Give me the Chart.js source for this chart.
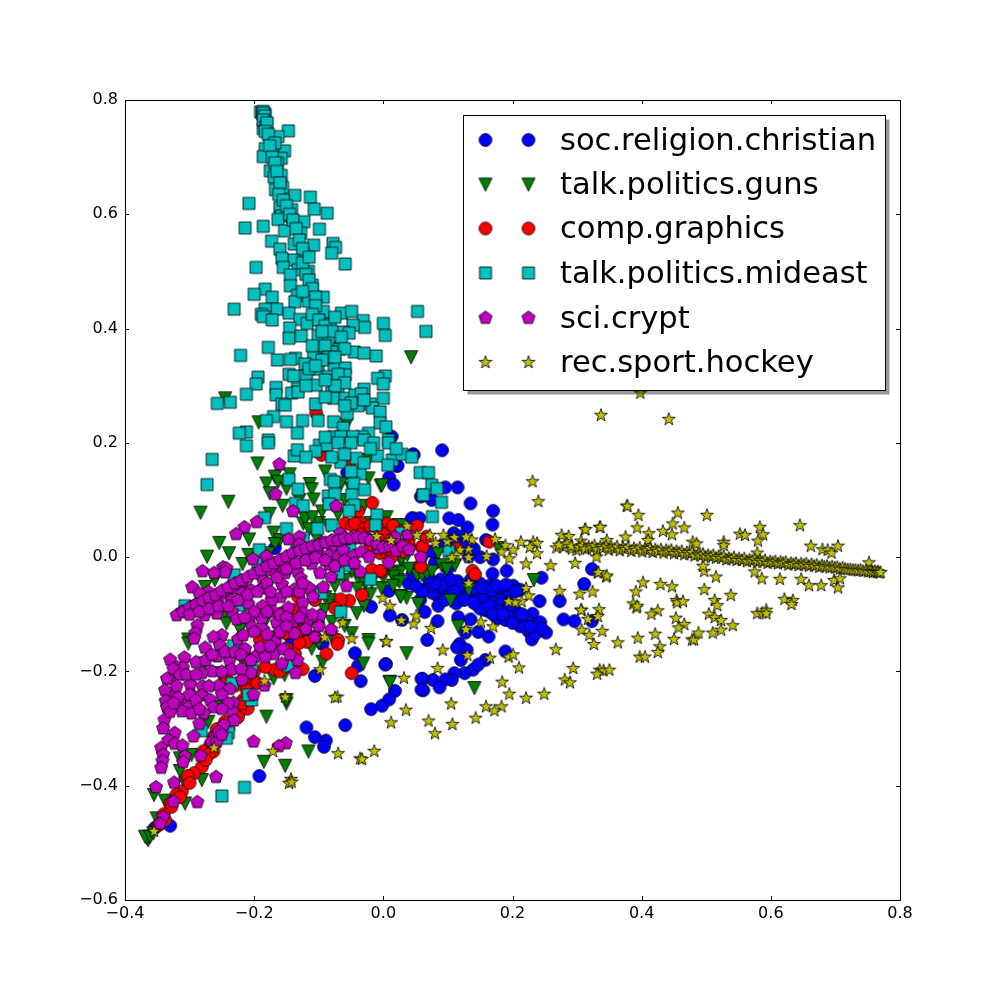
<!DOCTYPE html>
<html>
<head>
<meta charset="utf-8">
<style>html,body{margin:0;padding:0;background:#fff}canvas{display:block}</style>
<script src="https://cdn.jsdelivr.net/npm/chart.js@4/dist/chart.umd.min.js"></script>
</head>
<body>
<canvas id="c" width="1000" height="1000"></canvas>
<script>
const seriesNames = ['soc.religion.christian','talk.politics.guns','comp.graphics','talk.politics.mideast','sci.crypt','rec.sport.hockey'];
const seriesColors = ['#0000ff','#007f00','#ff0000','#00bfbf','#bf00bf','#bfbf00'];
const xTicks = [-0.4,-0.2,0,0.2,0.4,0.6,0.8];
const yTicks = [-0.6,-0.4,-0.2,0,0.2,0.4,0.6,0.8];

const christian = [[.091,.187],[.047,.179],[.021,.160],[.009,.140],[.016,.127],[.115,.122],[.096,.122],[.058,.106],[.075,.100],[.135,.094],[.170,.081],[.169,.057],[.102,.068],[.116,.065],[.130,.052],[.046,.068],[.056,.068],[.109,.042],[.119,.036],[.159,.030],[.150,.000],[.170,-.004],[.132,.001],[.191,-.024],[.169,-.029],[.245,-.036],[.323,-.021],[.311,-.047],[.242,-.077],[.273,-.077],[.279,-.109],[.296,-.112],[.323,-.112],
[.065,-.056],[.089,-.039],[.102,-.053],[.115,-.042],[.084,-.068],[.085,-.085],[.113,-.081],[.057,-.075],[.064,-.096],[.084,-.112],[.129,-.052],[.150,-.046],[.164,-.050],[.183,-.057],[.201,-.050],[.212,-.057],[.151,-.064],[.170,-.068],[.191,-.072],[.162,-.076],[.146,-.084],[.178,-.087],[.189,-.084],[.206,-.095],[.163,-.095],[.176,-.107],[.189,-.110],[.217,-.113],[.231,-.099],[.212,-.121],[.230,-.117],[.243,-.114],[.225,-.130],[.240,-.127],[.252,-.132],[.230,-.144],[.116,-.105],[.135,-.109],[.127,-.132],[.147,-.131],[.163,-.139],[.068,-.145],[.118,-.152],[.129,-.162],[.114,-.158],[.120,-.180],[.189,-.165],[.004,-.187],[.010,-.102],[.029,-.110],[.009,-.059],[.039,-.046],[.158,-.180],[.139,-.197],[.147,-.188],[.126,-.203],[.110,-.203],[.106,-.215],[.096,-.214],[.077,-.215],[.061,-.213],[.062,-.233],[.087,-.228],[.018,-.234],[.009,-.249],[-.002,-.260],[-.019,-.266],
[.072,-.044],[.097,-.060],[.125,-.065],[.140,-.070],[.156,-.092],[.170,-.092],[.196,-.097],[.222,-.110],[.205,-.108],[.100,-.070],[.075,-.062],[.138,-.055],[.195,-.060],[.180,-.075],
[.105,-.040],[.120,-.050],[.135,-.040],[.140,-.055],[.155,-.055],[.168,-.058],[.175,-.050],[.190,-.048],[.205,-.060],[.155,-.075],[.170,-.080],[.183,-.082],[.195,-.085],[.150,-.090],[.165,-.085],[.180,-.095],[.195,-.105],[.215,-.100],[.170,-.100],[.185,-.100],[.200,-.115],[.220,-.122],[.235,-.135],[.245,-.125],[.228,-.122],[.090,-.050],[.110,-.060],[.125,-.075],[.140,-.080],[.075,-.050],[.095,-.075],[.060,-.060],[.050,-.050],[.080,-.045],[.060,-.020],[.080,-.010],[.100,-.020],[.070,-.035],[.045,-.030],[.125,.020],[.110,.030],[.140,.015],[.090,.020],[.075,.010],
[-.056,.148],[.022,.160],[.044,.068],[-.019,-.087],[-.168,.016],[-.067,.371],[.013,.211],[-.044,-.168],[.003,-.188],[-.039,-.190],[-.035,-.217],[-.106,-.208],[.059,-.213],[.059,-.232],[-.119,-.298],[-.059,-.294],[-.106,-.315],[-.089,-.321],[-.092,-.332],[-.192,-.383],[-.330,-.470],[-.354,-.474],[-.142,-.145],[-.094,-.152],[.046,.180]];

const guns = [[-.195,.164],[-.168,.141],[-.145,.145],[-.181,.129],[-.163,.132],[-.114,.128],[-.111,.119],[-.176,.112],[-.108,.101],[-.240,.097],[-.156,.090],[-.283,.078],[-.176,.076],[-.124,.059],[-.121,.068],[-.170,.043],[-.115,.049],[-.254,.025],[-.208,.031],[-.160,.030],[-.168,.023],[-.103,.033],[-.239,.007],[-.273,.001],[-.218,-.012],[-.023,.170],[-.004,.125],[-.065,.129],[-.049,.147],[-.023,.138],[.023,.056],[.005,.070],[.038,.007],[.027,-.005],[.026,-.025],[.013,-.028],[.023,-.040],[.054,-.031],[-.039,-.037],[-.028,-.046],[-.018,-.043],[-.049,-.025],[-.083,-.075],[-.030,-.085],[.026,-.068],[.036,-.071],[.054,-.082],[-.003,-.054],[-.041,-.098],[-.091,-.092],[-.245,-.098],[-.243,-.116],[-.222,-.127],[-.183,-.113],[-.101,-.124],[-.080,-.113],[-.049,-.133],[-.023,-.145],[-.302,-.144],[-.261,-.040],[-.276,-.052],[-.178,.007],[-.209,.004],
[-.023,-.151],[.036,-.168],[-.111,-.160],[-.031,-.186],[.010,-.218],[-.094,-.183],[-.153,-.206],[-.170,-.212],[-.150,-.256],[-.150,-.250],[-.181,-.279],[-.116,-.340],[-.185,-.358],[-.152,-.365],[-.271,-.288],[-.253,-.262],[-.281,-.390],[-.315,-.374],[-.307,-.396],[-.307,-.431],[-.355,-.416],[-.338,-.426],[-.297,-.346],[-.315,-.352],[-.351,-.457],[-.364,-.495],[-.366,-.492],[-.369,-.489],[-.361,-.489],[-.356,-.483],[-.253,-.203],[-.219,-.180],[-.276,-.186],[-.302,-.151],[-.222,-.279],
[.043,.350],[-.245,.278],[-.193,.236],[-.057,.232],[-.002,.126],[.025,.056],[.028,-.004],[.037,.004],[.085,.007],[.111,-.014],[.090,-.014],[.098,-.021],[.016,-.034],[.025,-.043],[.052,-.031],[.060,-.031],[.067,-.028],[.132,-.057],[.027,-.069],[.104,-.076],[.116,-.121],[.233,-.040],[.178,.016],[.010,-.219],[.141,-.229],
[-.100,.060],[-.085,.055],[-.095,.080],[-.070,.075],[-.060,.100],[-.040,.070],[-.030,.090],[-.020,.060],[-.090,.150],[-.050,.120],[-.110,.070],[-.130,.100],[-.150,.120],[-.060,-.040],[-.040,-.055],[-.020,-.065],[-.075,-.050],[-.090,-.070],[-.070,-.085],[.000,-.035],[.015,-.050],[.040,-.020],[.060,-.010],[.075,-.025],[-.130,-.120],[-.120,-.140],[-.150,-.130],[-.080,-.140],[-.100,-.150],[-.060,-.120]];

const graphics = [[-.096,.179],[-.052,.167],[-.017,.095],[-.039,.080],[-.059,.059],[-.049,.056],[-.034,.059],[-.044,.059],[.005,.059],[.052,.055],[-.010,.053],[.013,.036],[.023,.018],[.039,.021],[.059,.018],[.002,.010],[.013,.004],[-.018,-.022],[-.003,-.025],[.057,-.015],[-.033,-.066],[-.053,-.076],[-.066,-.074],[-.075,-.089],[-.132,-.069],[-.106,-.075],[-.157,-.098],[-.137,-.092],[-.132,-.130],[-.152,-.133],[-.191,-.145],[-.106,-.139],[-.070,-.145],
[-.071,-.152],[-.088,-.169],[-.049,-.203],[-.119,-.148],[-.137,-.169],[-.125,-.196],[-.209,-.177],[-.168,-.197],[-.183,-.192],[-.206,-.218],[-.243,-.212],[-.212,-.232],[-.217,-.250],[-.210,-.265],[-.222,-.270],[-.219,-.256],[-.245,-.288],[-.258,-.301],[-.263,-.314],[-.268,-.329],[-.263,-.340],[-.279,-.340],[-.281,-.367],[-.293,-.378],[-.303,-.383],[-.312,-.410],[-.320,-.415],[-.330,-.431],[-.328,-.437],[-.338,-.460],[-.348,-.469],
[.016,.048],[-.002,.042],[.005,.024],[.021,.018],[.039,.018],[.061,.018],[.067,.036],[-.005,.007],[.005,.007],[.013,.001],[.039,.030],[.138,-.024],[.142,-.030],[.058,-.017],[-.005,-.024],[.164,.027],[.114,.015],[-.104,.252],
[-.030,.050],[-.020,.055],[-.008,.050],[.000,.040],[.010,.030],[.030,.030],[.015,.055],[.030,.045],[-.020,.020],[.005,.015],[.030,.010],[-.035,.040],[-.170,-.140],[-.150,-.160],[-.130,-.150],[-.185,-.165],[-.200,-.200],[-.160,-.200],[-.195,-.220],[-.215,-.210],[-.230,-.225],[-.225,-.280],[-.240,-.300],[-.250,-.305],[-.270,-.345],[-.300,-.395],[-.275,-.355],[-.315,-.420],[-.340,-.450]];

const mideast = [[-.19,.779],[-.187,.776],[-.183,.775],[-.185,.76],[-.181,.758],[-.186,.75],[-.186,.78],[-.186,.777],[-.184,.772],[-.186,.765],[-.182,.753],[-.147,.746],[-.173,.733],[-.163,.736],[-.170,.714],[-.183,.715],[-.186,.701],[-.153,.711],[-.158,.698],[-.164,.689],[-.175,.676],[-.169,.665],[-.158,.668],[-.156,.647],[-.167,.643],[-.137,.633],[-.113,.630],[-.208,.619],[-.107,.609],[-.087,.602],[-.160,.612],[-.142,.608],[-.158,.597],[-.163,.591],[-.123,.587],[-.186,.579],[-.214,.576],[-.099,.574],[-.140,.579],[-.153,.571],[-.128,.567],[-.173,.553],[-.138,.548],[-.108,.546],[-.078,.549],[-.074,.542],[-.080,.532],[-.160,.539],[-.124,.531],[-.139,.520],[-.157,.523],[-.059,.513],[-.197,.507],[-.155,.507],[-.116,.500],[-.132,.503],[-.144,.494],[-.110,.476],[-.144,.475],[-.183,.469],[-.200,.460],[-.172,.455],[-.133,.458],[-.093,.455],[-.137,.447],[-.116,.448],[-.231,.434],[.053,.430],[-.165,.434],[-.183,.434],[-.189,.425],[-.186,.421],[-.146,.427],[-.093,.430],[-.065,.427],[-.049,.430],[-.031,.414],[.000,.409],[.066,.395],[-.029,.402],[-.047,.406],[-.172,.415],[-.129,.416],[-.118,.409],[-.082,.408],[-.062,.394],[-.053,.392],[.003,.388],[-.145,.401],[-.146,.383],[-.127,.387],[-.101,.388],[-.085,.379],[-.178,.367],[-.221,.353],[-.104,.366],[-.068,.364],[-.080,.359],[-.045,.359],[-.030,.357],[-.011,.352],[-.164,.345],[-.136,.348],[-.144,.346],[-.108,.350],[-.121,.338],[-.075,.339],[-.101,.329],[-.076,.334],[-.059,.331],[-.146,.320],[-.139,.317],[-.194,.315],[-.197,.303],[-.119,.317],[-.085,.316],[-.059,.319],[.003,.317],[-.009,.313],[-.104,.301],[-.133,.295],[.000,.303],[-.166,.297],[-.030,.294],[-.212,.285],[-.166,.284],[-.142,.287],[-.132,.289],[-.080,.288],[-.070,.289],[-.077,.278],[-.059,.278],[-.044,.284],[-.034,.286],[.000,.278],[-.257,.269],[-.237,.271],[-.157,.268],[-.152,.266],[-.105,.268],[-.039,.265],[-.020,.268],[-.017,.261],[-.056,.251],[-.005,.254],[-.170,.246],[-.181,.239],[-.150,.237],[-.125,.239],[-.101,.239],[-.077,.237],[-.005,.235],[.004,.228],[-.062,.226],[-.212,.219],[-.223,.217],[-.133,.217],[-.023,.217],[-.178,.205],[-.077,.211],[-.066,.211],[-.033,.211],[-.047,.211],[.008,.205],
[-.212,.195],[-.178,.200],[-.265,.171],[-.273,.127],[-.138,.177],[-.133,.188],[-.099,.196],[-.088,.196],[.008,.200],[-.066,.166],[-.042,.173],[-.009,.177],[.014,.170],[.029,.180],[.044,.175],[.007,.161],[.057,.148],[-.036,.146],[-.082,.136],[-.076,.132],[-.146,.136],[-.046,.129],[-.132,.119],[-.029,.118],[-.085,.107],[-.075,.110],[-.049,.109],[.061,.109],[-.136,.094],[-.124,.090],[-.084,.093],[-.045,.091],[-.053,.081],[-.184,.069],[-.010,.074],[-.012,.056],[-.150,.050],[-.102,.050],[-.080,.056],[.028,.042],[-.124,.033],[-.192,.013],[-.134,.018],[-.052,.018],[-.194,-.010],[-.178,-.011],[-.059,-.015],[-.231,-.031],[-.070,-.028],[-.020,-.039],[-.096,-.063],[-.221,-.084],[-.307,-.085],[-.066,-.096],
[-.232,-.155],[-.147,-.190],[-.204,-.197],[-.234,-.221],[-.204,-.250],[-.209,-.241],[-.282,-.304],[-.240,-.307],[-.243,-.317],[-.215,-.403],[-.250,-.418],
[.070,.148],[.075,.126],[.083,.120],[.062,.109],[.090,.096],[.076,.071],[.102,.010],
[-.18,.76],[-.183,.745],[-.178,.74],[-.168,.725],[-.176,.72],[-.172,.70],[-.168,.69],[-.165,.675],[-.160,.655],[-.162,.635],[-.155,.625],[-.15,.615],[-.145,.60],[-.140,.59],[-.135,.575],[-.13,.555],[-.125,.54],[-.125,.515],[-.115,.525],[-.12,.495],[-.115,.485],[-.11,.47],[-.125,.465],[-.105,.455],[-.105,.44],[-.11,.425],[-.10,.415],[-.09,.405],[-.075,.42],[-.08,.395],[-.095,.395],[-.09,.37],[-.11,.37],[-.065,.385],[-.06,.365],[-.085,.35],[-.075,.35],[-.095,.345],[-.115,.33],[-.105,.335],[-.07,.32],[-.06,.305],[-.075,.30],[-.09,.31],[-.12,.30],[-.05,.27],[-.06,.265],[-.03,.275],[-.09,.28],[-.09,.21],[-.07,.20],[-.05,.20],[-.03,.205],[-.015,.20],[-.105,.185],[-.08,.175],[-.12,.175],[-.05,.15],[-.03,.165],[-.02,.19],[-.06,.18],[.02,.19]];

const crypt = [[-.161,.163],[-.167,.111],[-.140,.081],[-.073,.090],[-.196,.062],[-.215,.053],[-.228,.041],[-.147,.032],[-.130,.036],[-.130,.023],[-.095,.026],[-.067,.042],[-.057,.032],[-.039,.034],[-.023,.032],[.038,.041],[.018,.036],[-.008,.016],[-.079,.021],[-.103,.009],[-.121,.004],[-.085,.004],[-.070,.002],[-.062,.013],[-.046,.003],[-.034,.010],[-.022,.001],[.008,-.009],[.058,.001],[-.036,-.025],[-.202,-.003],[-.181,.002],[-.143,-.004],[-.111,-.011],[-.084,-.012],[-.164,-.015],[-.175,-.022],[-.152,-.027],[-.133,-.024],[-.098,-.027],[-.081,-.034],[-.128,-.036],[-.186,-.040],[-.218,-.046],[-.233,-.054],[-.248,-.017],[-.243,-.019],[-.245,-.026],[-.262,-.027],[-.280,-.024],[-.296,-.052],[-.271,-.060],[-.285,-.063],[-.247,-.062],[-.219,-.063],[-.205,-.057],[-.187,-.054],[-.157,-.047],[-.138,-.056],[-.114,-.054],[-.093,-.052],[-.057,-.050],[-.109,-.069],[-.159,-.069],[-.173,-.075],[-.125,-.079],[-.276,-.075],[-.257,-.078],[-.235,-.075],[-.294,-.085],[-.312,-.095],[-.320,-.101],[-.277,-.101],[-.258,-.098],[-.209,-.081],[-.187,-.085],[-.147,-.088],[-.170,-.095],[-.234,-.095],[-.124,-.097],[-.098,-.101],[-.227,-.108],[-.206,-.104],[-.165,-.114],[-.139,-.112],[-.118,-.113],[-.188,-.107],[-.186,-.126],[-.204,-.121],[-.288,-.119],[-.291,-.132],[-.293,-.142],[-.138,-.133],[-.081,-.126],[-.225,-.143],[-.250,-.136],[-.263,-.139],[-.217,-.136],[-.168,-.144],[-.106,-.139],
[-.276,-.158],[-.253,-.154],[-.214,-.160],[-.191,-.157],[-.168,-.148],[-.257,-.173],[-.330,-.179],[-.308,-.175],[-.290,-.183],[-.320,-.192],[-.310,-.193],[-.169,-.169],[-.133,-.180],[-.157,-.186],[-.199,-.174],[-.183,-.174],[-.238,-.180],[-.265,-.199],[-.281,-.202],[-.136,-.202],[-.205,-.202],[-.235,-.196],[-.328,-.211],[-.335,-.212],[-.219,-.214],[-.299,-.222],[-.255,-.224],[-.280,-.225],[-.184,-.224],[-.328,-.238],[-.338,-.232],[-.296,-.241],[-.238,-.230],[-.201,-.240],[-.281,-.241],[-.312,-.250],[-.337,-.251],[-.268,-.249],[-.232,-.254],[-.335,-.262],[-.300,-.260],[-.312,-.269],[-.297,-.273],[-.263,-.262],[-.278,-.273],[-.234,-.269],[-.231,-.285],[-.339,-.284],[-.341,-.299],[-.285,-.291],[-.247,-.293],[-.323,-.307],[-.294,-.313],[-.261,-.314],[-.266,-.323],[-.258,-.323],[-.333,-.320],[-.323,-.326],[-.311,-.329],[-.344,-.333],[-.341,-.345],[-.307,-.348],[-.283,-.347],[-.342,-.356],[-.344,-.368],[-.310,-.358],[-.201,-.322],[-.151,-.325],[-.162,-.330],[-.259,-.384],[-.324,-.394],[-.352,-.402],[-.325,-.427],[-.288,-.428],[-.341,-.454],[-.346,-.466],
[-.310,-.095],[-.300,-.088],[-.290,-.082],[-.280,-.077],[-.270,-.070],[-.260,-.066],[-.250,-.058],[-.240,-.052],[-.230,-.045],[-.220,-.040],[-.210,-.034],[-.200,-.028],[-.190,-.022],[-.180,-.015],[-.170,-.010],[-.160,-.004],[-.150,.002],[-.140,.008],[-.130,.012],[-.120,.016],[-.110,.020],[-.100,.022],[-.090,.026],[-.080,.030],[-.070,.030],[-.060,.034],[-.050,.034],[-.040,.036],[-.030,.034],[-.020,.030],[-.010,.024],[.000,.018],[.010,.020],[.020,.012],[.030,.020],[.040,.014],
[-.300,-.100],[-.285,-.095],[-.270,-.090],[-.255,-.085],[-.240,-.085],[-.225,-.075],[-.210,-.065],[-.195,-.060],[-.180,-.045],[-.165,-.035],[-.150,-.020],[-.135,-.010],[-.120,-.005],[-.105,.000],[-.090,-.005],[-.075,-.015],[-.060,-.005],[-.045,-.010],[-.150,-.060],[-.130,-.060],[-.125,-.045],[-.175,-.060],[-.200,-.095],[-.215,-.105],[-.180,-.095],[-.160,-.100],[-.150,-.105],[-.130,-.105],[-.110,-.100],[-.200,-.130],[-.180,-.135],[-.160,-.130],[-.150,-.120],[-.120,-.125],[-.100,-.120],
[-.325,-.195],[-.315,-.205],[-.305,-.205],[-.290,-.205],[-.275,-.180],[-.265,-.170],[-.245,-.165],[-.230,-.165],[-.220,-.170],[-.205,-.180],[-.175,-.155],[-.155,-.160],[-.145,-.170],[-.320,-.225],[-.318,-.245],[-.300,-.240],[-.290,-.250],[-.330,-.270],[-.325,-.255],[-.285,-.265],[-.250,-.240],[-.250,-.200],[-.220,-.195],[-.270,-.225],[-.240,-.255],[-.250,-.265],[-.255,-.305],[-.250,-.310]];

const hockey = [[.337,.249],[.442,.242],[.398,.288],[.377,.090],[.395,.074],[.456,.078],[.501,.074],[.448,.059],[.466,.052],[.393,.052],[.335,.053],[.312,.049],[.433,.046],[.411,.042],[.447,.040],[.375,.036],[.410,.030],[.346,.030],[.479,.027],[.485,.024],[.527,.027],[.527,.021],[.552,.041],[.560,.039],[.583,.053],[.588,.040],[.580,.029],[.645,.056],[.662,.020],[.680,.014],[.688,.013],[.694,.008],[.704,.020],[.579,.008],[.752,-.009],
[.330,.001],[.332,-.027],[.345,-.034],[.324,-.060],[.402,-.044],[.429,-.047],[.447,-.051],[.391,-.060],[.387,-.081],[.392,-.088],[.393,-.085],[.454,-.075],[.455,-.079],[.464,-.077],[.425,-.093],[.415,-.099],[.453,-.106],[.466,-.117],[.457,-.123],[.334,-.091],[.332,-.103],[.317,-.108],[.307,-.092],[.339,-.129],[.307,-.127],[.319,-.136],[.326,-.152],[.363,-.149],[.394,-.141],[.421,-.134],[.450,-.143],[.428,-.156],[.425,-.166],[.397,-.174],[.405,-.174],[.335,-.197],[.341,-.198],[.350,-.197],[.331,-.204],[.478,-.144],[.481,-.144],[.488,-.132],[.510,-.132],[.523,-.127],[.541,-.119],[.504,-.099],[.513,-.105],[.523,-.110],[.497,-.024],[.515,-.034],[.497,-.056],[.495,-.015],[.513,-.075],[.517,-.084],[.538,-.066],[.575,-.025],[.586,-.037],[.614,-.038],[.647,-.038],[.659,-.049],[.678,-.049],[.698,-.040],[.707,-.037],[.704,-.053],[.621,-.073],[.634,-.075],[.632,-.082],[.579,-.098],[.587,-.097],[.593,-.092],[.593,-.098],
[.231,.133],[.240,.098],[.378,.090],[.313,.049],[.336,.053],[.276,.039],[.287,.037],[.306,.029],[.268,.017],[.279,.018],[.292,.015],[.299,.013],[.315,.015],[.213,.027],[.232,.027],[.238,.025],[.173,.032],[.189,.021],[.201,.013],[.227,.018],[.238,.007],[.183,.010],[.195,-.002],[.221,-.011],[.259,-.014],[.297,-.010],[.160,.002],[.132,.014],[.132,.000],[.137,.031],[.128,.036],[.110,.035],[.099,.028],[.093,.039],[.072,.039],[.081,.025],[.052,.039],[.119,.013],[.113,.004],[.106,.000],[.037,.055],[.012,.030],[.333,-.026],[.346,-.032],[.273,-.059],[.304,-.064],[.221,-.054],[.225,-.067],[.214,-.077],[.204,-.079],[.194,-.077],[.132,-.045],[.306,-.092],[.267,-.161],[.294,-.194],[.281,-.214],[.289,-.219],[.249,-.239],[.221,-.246],[.195,-.239],[.184,-.218],[.183,-.261],[.172,-.268],[.159,-.261],[.143,-.281],[.105,-.256],[.107,-.292],[.070,-.286],[.080,-.308],[.035,-.267],[.012,-.289],[.032,-.211],[.084,-.194],[.130,-.171],[.165,-.176],[.194,-.174],[.201,-.170],[.210,-.193],[.004,-.147],[.092,-.162],[.151,-.113],[.170,-.121],[.128,-.126],[.074,-.124],[.047,-.116],[.051,-.102],[.028,-.110],[.010,-.085],[-.001,-.071],
[-.184,-.216],[-.098,-.196],[-.152,-.244],[-.071,-.244],[-.075,-.245],[.005,-.147],[-.171,-.339],[-.070,-.343],[-.036,-.352],[-.033,-.353],[-.014,-.339],[-.262,-.333],[-.143,-.388],[-.146,-.395],[-.142,-.393],[-.355,-.479],[-.063,-.114],[-.091,-.140],[-.049,-.142],[-.010,.037],
[.272,.022],[.284,.024],[.291,.020],[.303,.018],[.308,.021],[.312,.015],[.318,.019],[.323,.017],[.327,.021],[.331,.014],[.336,.019],[.340,.016],[.345,.020],[.349,.013],[.353,.018],[.358,.015],[.362,.019],[.366,.012],[.371,.017],[.375,.014],[.379,.018],[.384,.011],[.388,.016],[.392,.013],[.397,.017],[.401,.010],[.405,.015],[.409,.012],[.413,.016],[.417,.009],[.421,.014],[.425,.011],[.430,.014],[.434,.008],[.438,.013],[.442,.010],[.446,.013],[.450,.007],[.454,.011],[.458,.008],[.462,.011],[.466,.005],[.470,.009],[.474,.006],[.478,.009],[.482,.003],[.487,.006],[.491,.003],[.495,.006],[.499,.001],[.503,.004],[.507,.001],[.511,.004],[.515,-.001],[.519,.002],[.523,-.001],[.527,.002],[.531,-.004],[.535,-.001],[.539,-.003],[.543,.000],[.547,-.005],[.551,-.002],[.555,-.005],[.559,-.002],[.563,-.007],[.567,-.004],[.571,-.006],[.575,-.003],[.579,-.008],[.583,-.005],[.587,-.008],[.591,-.005],[.595,-.010],[.599,-.007],[.603,-.009],[.607,-.007],[.611,-.011],[.615,-.008],[.619,-.010],[.623,-.008],[.627,-.013],[.631,-.010],[.635,-.012],[.639,-.010],[.643,-.014],[.647,-.011],[.651,-.013],[.655,-.011],[.659,-.015],[.663,-.012],[.667,-.015],[.671,-.013],[.675,-.017],[.679,-.014],[.683,-.016],[.687,-.015],[.691,-.018],[.695,-.016],[.699,-.018],[.703,-.017],[.707,-.020],[.711,-.018],[.715,-.020],[.719,-.021],[.723,-.021],[.727,-.022],[.731,-.022],[.735,-.023],[.739,-.022],[.743,-.024],[.747,-.023],[.751,-.025],[.755,-.024],[.758,-.026],[.761,-.024],[.764,-.026],[.766,-.025],[.768,-.027],[.770,-.026]];

const seriesPoints = [christian, guns, graphics, mideast, crypt, hockey];
const markerShapes = ['circle','triangle','circle','square','pentagon','star'];

function makeMarker(shape, color) {
  const S = 20, c = document.createElement('canvas');
  c.width = S; c.height = S;
  const g = c.getContext('2d'), m = S / 2;
  g.fillStyle = color; g.strokeStyle = 'rgba(0,0,0,0.8)'; g.lineWidth = 1;
  g.lineJoin = 'miter';
  g.beginPath();
  if (shape === 'circle') {
    g.arc(m, m, 6.4, 0, Math.PI * 2);
  } else if (shape === 'triangle') {
    g.moveTo(m - 6.6, m - 6.4); g.lineTo(m + 6.6, m - 6.4); g.lineTo(m, m + 6.8); g.closePath();
  } else if (shape === 'square') {
    g.rect(m - 6, m - 6, 12, 12);
  } else if (shape === 'pentagon') {
    for (let i = 0; i < 5; i++) {
      const a = -Math.PI / 2 + i * 2 * Math.PI / 5;
      const px = m + 6.9 * Math.cos(a), py = m + 0.4 + 6.9 * Math.sin(a);
      if (i) g.lineTo(px, py); else g.moveTo(px, py);
    }
    g.closePath();
  } else {
    for (let i = 0; i < 10; i++) {
      const a = -Math.PI / 2 + i * Math.PI / 5, r = i % 2 ? 2.7 : 6.8;
      const px = m + r * Math.cos(a), py = m + 0.5 + r * Math.sin(a);
      if (i) g.lineTo(px, py); else g.moveTo(px, py);
    }
    g.closePath();
  }
  g.fill(); g.stroke();
  return c;
}
const markers = markerShapes.map((s, i) => makeMarker(s, seriesColors[i]));

const FONT = '"DejaVu Sans"';
const frameAndLegend = {
  id: 'frameAndLegend',
  afterDraw(chart) {
    const { ctx, chartArea: a, scales: { x, y } } = chart;
    ctx.save();
    ctx.strokeStyle = '#000'; ctx.lineWidth = 1;
    ctx.beginPath();
    xTicks.forEach(v => {
      const p = Math.round(x.getPixelForValue(v)) + 0.5;
      ctx.moveTo(p, a.bottom); ctx.lineTo(p, a.bottom - 4);
      ctx.moveTo(p, a.top); ctx.lineTo(p, a.top + 4);
    });
    yTicks.forEach(v => {
      const p = Math.round(y.getPixelForValue(v)) + 0.5;
      ctx.moveTo(a.left, p); ctx.lineTo(a.left + 4, p);
      ctx.moveTo(a.right, p); ctx.lineTo(a.right - 4, p);
    });
    ctx.stroke();
    ctx.strokeRect(a.left + 0.5, a.top + 0.5, a.right - a.left, a.bottom - a.top);

    const L = 463.5, T = 115.5, W = 422, H = 275;
    ctx.fillStyle = 'rgba(0,0,0,0.4)';
    ctx.fillRect(L + 4, T + 4, W, H);
    ctx.fillStyle = '#fff';
    ctx.fillRect(L, T, W, H);
    ctx.strokeRect(L, T, W, H);
    const markerRows = [140, 184.5, 228.5, 273, 317.5, 362];
    const baselines = [150, 194, 238, 283, 328, 372];
    ctx.fillStyle = '#000';
    ctx.font = '30.56px ' + FONT;
    ctx.textBaseline = 'alphabetic'; ctx.textAlign = 'left';
    seriesNames.forEach((name, i) => {
      ctx.drawImage(markers[i], 475.5, markerRows[i] - 10);
      ctx.drawImage(markers[i], 518.5, markerRows[i] - 10);
      ctx.fillText(name, 560, baselines[i]);
    });
    ctx.restore();
  }
};

new Chart(document.getElementById('c'), {
  type: 'scatter',
  data: {
    datasets: seriesNames.map((name, i) => ({
      label: name,
      data: seriesPoints[i].map(p => ({ x: p[0], y: p[1] })),
      pointStyle: markers[i],
      pointRadius: 7,
      pointHoverRadius: 7,
      order: seriesNames.length - i,
      showLine: false
    }))
  },
  options: {
    responsive: false,
    animation: false,
    events: [],
    layout: { padding: { top: 100, right: 100, left: 0, bottom: 0 } },
    plugins: { legend: { display: false }, tooltip: { enabled: false } },
    scales: {
      x: {
        type: 'linear', min: -0.4, max: 0.8,
        grid: { display: false, drawTicks: false }, border: { display: false },
        afterFit(s) { s.height = 100; },
        afterBuildTicks(s) { s.ticks = xTicks.map(v => ({ value: v })); },
        ticks: {
          autoSkip: false, maxRotation: 0, padding: 4, color: '#000',
          font: { family: FONT, size: 16 },
          callback: v => v.toFixed(1).replace('-', '\u2212')
        }
      },
      y: {
        type: 'linear', min: -0.6, max: 0.8,
        grid: { display: false, drawTicks: false }, border: { display: false },
        afterFit(s) { s.width = 125; },
        afterBuildTicks(s) { s.ticks = yTicks.map(v => ({ value: v })); },
        ticks: {
          autoSkip: false, padding: 7, color: '#000',
          font: { family: FONT, size: 16 },
          callback: v => v.toFixed(1).replace('-', '\u2212')
        }
      }
    }
  },
  plugins: [frameAndLegend]
});
</script>
</body>
</html>
